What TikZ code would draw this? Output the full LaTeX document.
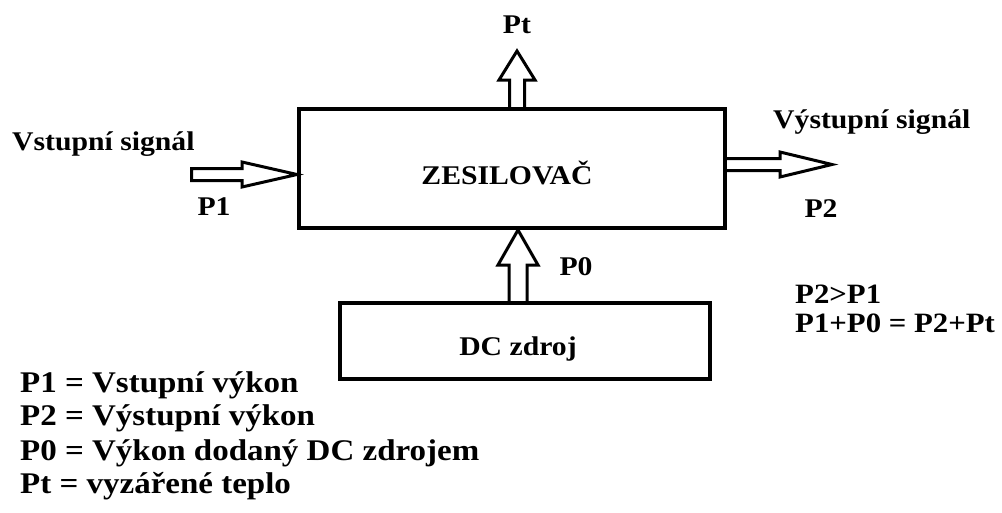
\documentclass[tikz,border=0pt]{standalone}
\usepackage{fontspec}
\setmainfont{Liberation Serif}[FakeStretch=1.1]
\usetikzlibrary{calc}
\begin{document}
\begin{tikzpicture}[x=1pt,y=-1pt,
  lbl/.style={font=\fontsize{27}{27}\selectfont\bfseries, inner sep=0pt},
  eqn/.style={font=\fontsize{28}{28}\selectfont\bfseries, inner sep=0pt, anchor=base west},
  legend/.style={font=\fontsize{30}{30}\selectfont\bfseries, inner sep=0pt, anchor=base west},
  blockbox/.style={draw, line width=4pt, inner sep=0pt},
  fat/.style={draw, line width=3pt, line join=miter}]
\useasboundingbox (0,0) rectangle (1002,512);
% boxes
\node[blockbox, minimum width=426pt, minimum height=119pt] (amp) at (512,168.5) {};
\node[lbl, anchor=base] (ampt) at (507,184) {ZESILOVAČ};
\node[blockbox, minimum width=370pt, minimum height=75.5pt] (dc) at (524.5,340.75) {};
\node[lbl, anchor=base] (dct) at (518,355) {DC zdroj};
% labels
\node[lbl, anchor=base] (pt) at (517,33) {Pt};
\node[lbl, anchor=base west] (vin) at (12,150) {Vstupní signál};
\node[lbl, anchor=base] (p1) at (214,215) {P1};
\node[lbl, anchor=base west] (vout) at (773,128) {Výstupní signál};
\node[lbl, anchor=base] (p2) at (821,217) {P2};
\node[lbl, anchor=base] (p0) at (576,275) {P0};
\node[eqn] (eq1) at (795,303) {P2>P1};
\node[eqn] (eq2) at (795,332) {P1+P0 = P2+Pt};
% legend
\node[legend] (leg1) at (20,392) {P1 = Vstupní výkon};
\node[legend] (leg2) at (20,425) {P2 = Výstupní výkon};
\node[legend] (leg3) at (20,460) {P0 = Výkon dodaný DC zdrojem};
\node[legend] (leg4) at (20,493) {Pt = vyzářené teplo};
% coordinates for arrows
\coordinate (pttip) at (517,51);
\coordinate (ptbase) at (amp.north -| pttip);
\coordinate (p0c) at (518,0);
\coordinate (p0tip) at (amp.south -| p0c);
\coordinate (p0base) at (dc.north -| p0c);
\coordinate (p1start) at (191.5,174.5);
\coordinate (p1tip) at (amp.west |- p1start);
\coordinate (p2y) at (0,164.5);
\coordinate (p2base) at (amp.east |- p2y);
\coordinate (p2tip) at (832,164.5);
% Pt arrow (up)
\draw[fat] ($(ptbase)+(-7.5,0)$) -- ($(pttip)+(-7.5,29)$) -- ($(pttip)+(-18,29)$) -- (pttip)
  -- ($(pttip)+(18,29)$) -- ($(pttip)+(7.5,29)$) -- ($(ptbase)+(7.5,0)$);
% P0 arrow (up)
\draw[fat] ($(p0base)+(-9,0)$) -- ($(p0tip)+(-9,35)$) -- ($(p0tip)+(-20,35)$) -- (p0tip)
  -- ($(p0tip)+(20,35)$) -- ($(p0tip)+(9,35)$) -- ($(p0base)+(9,0)$);
% P1 arrow (right)
\draw[fat] ($(p1start)+(0,-6)$) -- ($(p1tip)+(-55,-6)$) -- ($(p1tip)+(-55,-12.5)$) -- (p1tip)
  -- ($(p1tip)+(-55,12.5)$) -- ($(p1tip)+(-55,6)$) -- ($(p1start)+(0,6)$) -- cycle;
% P2 arrow (right)
\draw[fat] ($(p2base)+(0,-6)$) -- ($(p2tip)+(-52,-6)$) -- ($(p2tip)+(-52,-12.5)$) -- (p2tip)
  -- ($(p2tip)+(-52,12.5)$) -- ($(p2tip)+(-52,6)$) -- ($(p2base)+(0,6)$);
\end{tikzpicture}
\end{document}
